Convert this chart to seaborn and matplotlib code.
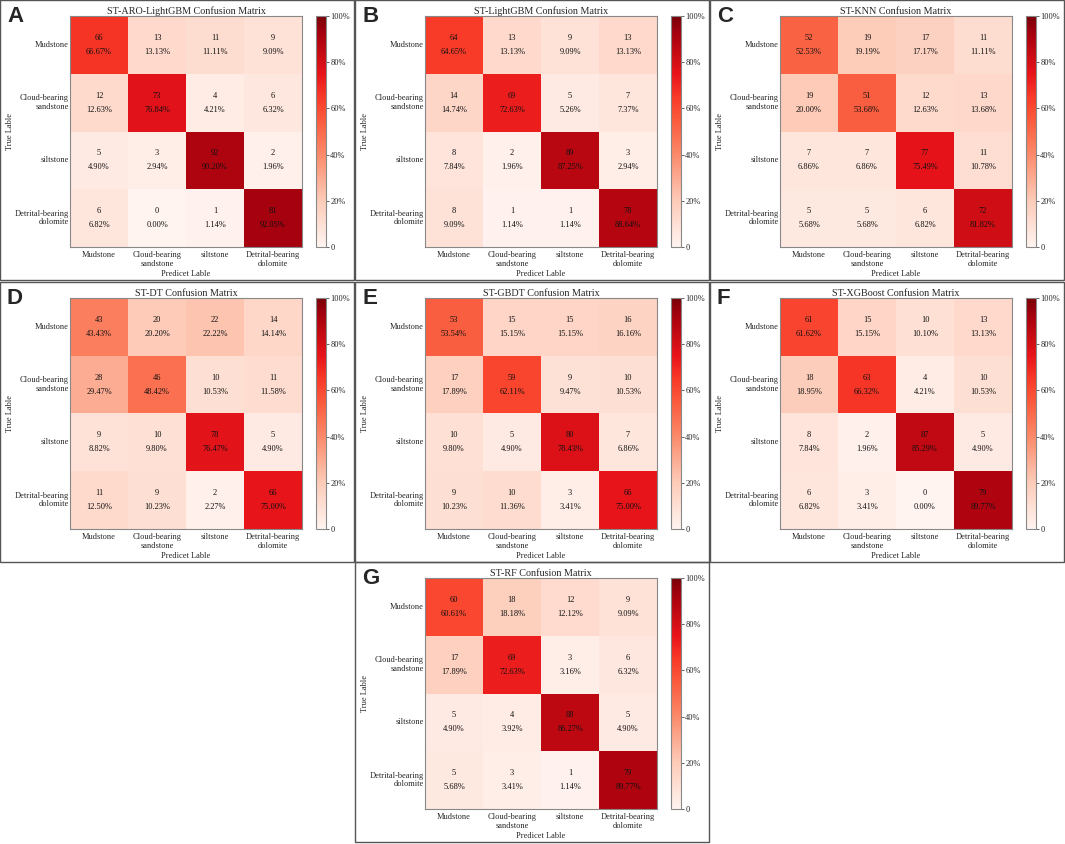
import numpy as np
import seaborn as sns
import matplotlib.pyplot as plt
from matplotlib.colors import LinearSegmentedColormap
from matplotlib.patches import Rectangle

classes = ["Mudstone", "Cloud-bearing\nsandstone", "siltstone", "Detrital-bearing\ndolomite"]

aro_lightgbm = [[66, 13, 11, 9], [12, 73, 4, 6], [5, 3, 92, 2], [6, 0, 1, 81]]
lightgbm = [[64, 13, 9, 13], [14, 69, 5, 7], [8, 2, 89, 3], [8, 1, 1, 78]]
knn = [[52, 19, 17, 11], [19, 51, 12, 13], [7, 7, 77, 11], [5, 5, 6, 72]]
dt = [[43, 20, 22, 14], [28, 46, 10, 11], [9, 10, 78, 5], [11, 9, 2, 66]]
gbdt = [[53, 15, 15, 16], [17, 59, 9, 10], [10, 5, 80, 7], [9, 10, 3, 66]]
xgboost = [[61, 15, 10, 13], [18, 63, 4, 10], [8, 2, 87, 5], [6, 3, 0, 79]]
rf = [[60, 18, 12, 9], [17, 69, 3, 6], [5, 4, 88, 5], [5, 3, 1, 79]]

titles = ["ST-ARO-LightGBM", "ST-LightGBM", "ST-KNN", "ST-DT", "ST-GBDT", "ST-XGBoost", "ST-RF"]
letters = ["A", "B", "C", "D", "E", "F", "G"]
matrices = [aro_lightgbm, lightgbm, knn, dt, gbdt, xgboost, rf]

sns.set_theme(style="white")
plt.rcParams["font.family"] = ["Liberation Serif", "DejaVu Serif"]

cmap = LinearSegmentedColormap.from_list("cm", [
    (0.0, "#fff4f0"), (0.2, "#fdcbb8"), (0.4, "#fb8a6a"), (0.55, "#fa5a3c"),
    (0.65, "#f83a28"), (0.75, "#e8141a"), (0.85, "#c20a12"), (0.93, "#a3000e"),
    (1.0, "#7a0008")])

W, H = 1065, 844
fig = plt.figure(figsize=(W / 100, H / 100), dpi=100)


def box(x, y, w, h):
    return [x / W, 1 - (y + h) / H, w / W, h / H]


# panel origins in pixels
origins = [(0, 0), (355, 0), (710, 0), (0, 282), (355, 282), (710, 282), (355, 562)]
fs = 6.0

for (px, py), m, t, letter in zip(origins, matrices, titles, letters):
    fig.patches.append(Rectangle((px / W, 1 - (py + 280) / H), 354 / W, 280 / H,
                                 transform=fig.transFigure, fill=False,
                                 edgecolor="#555555", lw=1))
    counts = np.array(m)
    pct = counts / counts.sum(axis=1, keepdims=True)
    annot = np.array([[f"{c}\n{p * 100:.2f}%" for c, p in zip(rc, rp)]
                      for rc, rp in zip(counts, pct)])
    ax = fig.add_axes(box(px + 70, py + 16, 232, 231))
    cax = fig.add_axes(box(px + 316, py + 16, 10, 231))
    sns.heatmap(pct, ax=ax, cbar_ax=cax, cmap=cmap, vmin=0, vmax=1,
                annot=annot, fmt="", xticklabels=classes, yticklabels=classes,
                annot_kws={"fontsize": fs, "color": "#111111", "linespacing": 2.0})
    for s in ax.spines.values():
        s.set_visible(True)
        s.set_color("#888888")
        s.set_linewidth(0.8)
    ax.tick_params(axis="both", labelsize=fs, length=2, width=0.5, pad=1,
                   left=True, bottom=False, top=True, direction="in")
    ax.tick_params(axis="x", pad=3)
    ax.set_yticklabels(classes, rotation=0, fontsize=fs, ha="right", linespacing=1.1)
    ax.set_xticklabels(classes, rotation=0, fontsize=fs, linespacing=1.2)
    ax.set_title(f"{t} Confusion Matrix", fontsize=7.3, pad=1.5)
    ax.set_xlabel("Predicet Lable", fontsize=fs, labelpad=1)
    ax.set_ylabel("True Lable", fontsize=fs)
    ax.yaxis.set_label_coords(-56 / 232, 0.5)
    cb = ax.collections[0].colorbar
    cb.set_ticks([0, 0.2, 0.4, 0.6, 0.8, 1.0])
    cb.set_ticklabels(["0", "20%", "40%", "60%", "80%", "100%"])
    cax.tick_params(labelsize=fs, length=2, width=0.5, pad=1)
    cb.outline.set_edgecolor("#888888")
    cb.outline.set_linewidth(0.8)
    fig.text((px + 7) / W, 1 - (py + 6) / H, letter, fontsize=16,
             fontweight="bold", family="Liberation Sans", va="top", ha="left")

fig.savefig("out.png", dpi=100)
